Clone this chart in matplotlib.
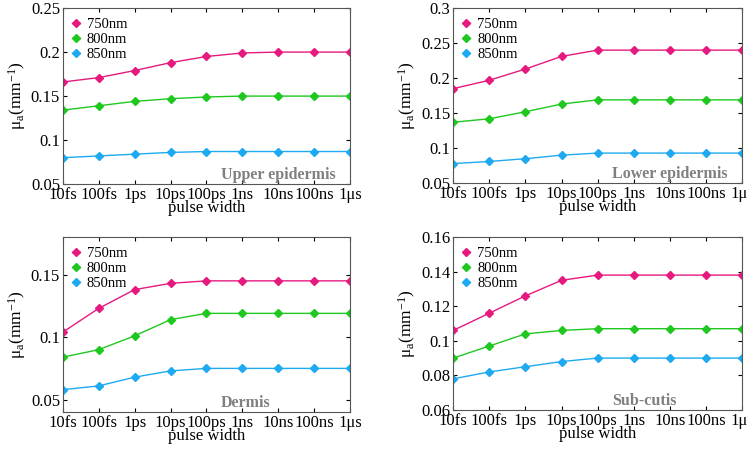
import matplotlib.pyplot as plt
import numpy as np

plt.rcParams['font.family'] = ['Liberation Serif', 'DejaVu Serif']

# pulse widths in seconds
pulse_width = [1e-14, 1e-13, 1e-12, 1e-11, 1e-10, 1e-9, 1e-8, 1e-7, 1e-6]
tick_labels = ['10fs', '100fs', '1ps', '10ps', '100ps', '1ns', '10ns', '100ns', '1\u03bcs']
wavelengths = ['750nm', '800nm', '850nm']

upper_750 = [0.166, 0.171, 0.179, 0.188, 0.195, 0.199, 0.200, 0.200, 0.200]
upper_800 = [0.134, 0.139, 0.144, 0.147, 0.149, 0.150, 0.150, 0.150, 0.150]
upper_850 = [0.080, 0.082, 0.084, 0.086, 0.087, 0.087, 0.087, 0.087, 0.087]

lower_750 = [0.185, 0.197, 0.213, 0.231, 0.240, 0.240, 0.240, 0.240, 0.240]
lower_800 = [0.137, 0.142, 0.152, 0.163, 0.169, 0.169, 0.169, 0.169, 0.169]
lower_850 = [0.078, 0.081, 0.085, 0.090, 0.093, 0.093, 0.093, 0.093, 0.093]

dermis_750 = [0.104, 0.123, 0.138, 0.143, 0.145, 0.145, 0.145, 0.145, 0.145]
dermis_800 = [0.084, 0.090, 0.101, 0.114, 0.119, 0.119, 0.119, 0.119, 0.119]
dermis_850 = [0.058, 0.061, 0.068, 0.073, 0.075, 0.075, 0.075, 0.075, 0.075]

subcutis_750 = [0.106, 0.116, 0.126, 0.135, 0.138, 0.138, 0.138, 0.138, 0.138]
subcutis_800 = [0.090, 0.097, 0.104, 0.106, 0.107, 0.107, 0.107, 0.107, 0.107]
subcutis_850 = [0.078, 0.082, 0.085, 0.088, 0.090, 0.090, 0.090, 0.090, 0.090]

colors = ['#e6197f', '#1fc81f', '#1eaaf0']

panels = [
    ('Upper epidermis', [upper_750, upper_800, upper_850], (0.05, 0.25), [0.05, 0.1, 0.15, 0.2, 0.25], ['0.05', '0.1', '0.15', '0.2', '0.25']),
    ('Lower epidermis', [lower_750, lower_800, lower_850], (0.05, 0.3), [0.05, 0.1, 0.15, 0.2, 0.25, 0.3], ['0.05', '0.1', '0.15', '0.2', '0.25', '0.3']),
    ('Dermis', [dermis_750, dermis_800, dermis_850], (0.04, 0.18), [0.05, 0.1, 0.15], ['0.05', '0.1', '0.15']),
    ('Sub-cutis', [subcutis_750, subcutis_800, subcutis_850], (0.06, 0.16), [0.06, 0.08, 0.1, 0.12, 0.14, 0.16], ['0.06', '0.08', '0.1', '0.12', '0.14', '0.16']),
]

positions = [
    [0.084, 0.590, 0.384, 0.392],
    [0.606, 0.592, 0.386, 0.390],
    [0.084, 0.082, 0.384, 0.390],
    [0.606, 0.087, 0.386, 0.385],
]

fig = plt.figure(figsize=(7.48, 4.49), dpi=100)

for (name, series, ylim, yticks, ylabels), pos in zip(panels, positions):
    ax = fig.add_axes(pos)
    for vals, c, lab in zip(series, colors, wavelengths):
        ax.plot(pulse_width, vals, color=c, lw=1.0, marker='D', ms=4, mec=c, mfc=c, label=lab)
    ax.set_xscale('log')
    ax.set_xlim(1e-14, 1e-6)
    ax.set_ylim(*ylim)
    ax.set_xticks(pulse_width)
    ax.set_xticklabels(tick_labels, fontsize=12)
    ax.set_yticks(yticks)
    ax.set_yticklabels(ylabels, fontsize=12)
    ax.tick_params(direction='in', top=True, right=True, length=3, pad=2)
    ax.tick_params(which='minor', direction='in', top=True, right=True, length=1.5)
    for s in ax.spines.values():
        s.set_color('#555555')
        s.set_linewidth(0.8)
    ax.set_xlabel('pulse width', fontsize=12, labelpad=-2)
    ax.set_ylabel(r'$\mathregular{\mu_a(mm^{-1})}$', fontsize=12.5, labelpad=2)
    ax.legend(loc='upper left', frameon=False, fontsize=10.5, handlelength=0.5,
              handletextpad=0.5, labelspacing=0.12, borderaxespad=0.35,
              borderpad=0.3, markerscale=1.0)
    ax.text(0.55, 0.03, name, transform=ax.transAxes, ha='left', va='baseline',
            fontsize=11.5, fontweight='bold', color='#808080')

fig.savefig('out.png', dpi=100)
